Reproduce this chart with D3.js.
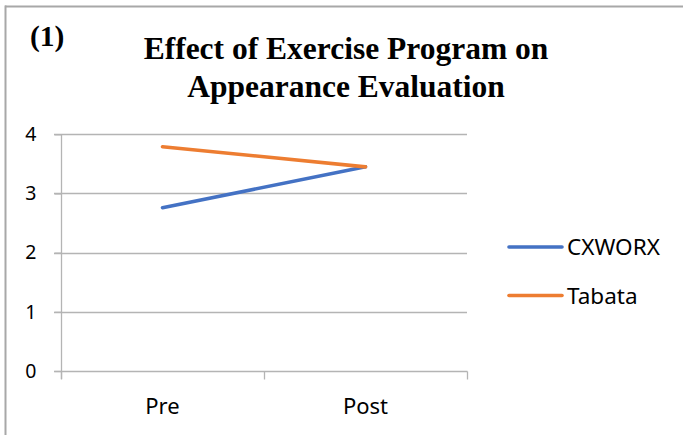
<!DOCTYPE html>
<html>
<head>
<meta charset="utf-8">
<script src="https://cdn.jsdelivr.net/npm/d3@7"></script>
<style>
  html, body { margin: 0; padding: 0; background: #fff; }
  svg { display: block; }
</style>
</head>
<body>
<svg id="chart" width="683" height="435"></svg>
<script>
const categories = ["Pre", "Post"];
const seriesNames = ["CXWORX", "Tabata"];
const cxworxValues = [2.76, 3.45];
const tabataValues = [3.79, 3.45];
const seriesColors = ["#4472C4", "#ED7D31"];
const yTicks = [0, 1, 2, 3, 4];
const titleLines = ["Effect of Exercise Program on", "Appearance Evaluation"];
const panelLabel = "(1)";

(function () {
const svg = d3.select("#chart");
const W = 683, H = 435;
const pLeft = 61, pRight = 467, pTop = 134.3, pBottom = 371;

// outer frame (top and left only, as in reference)
svg.append("line").attr("x1", 5).attr("x2", W).attr("y1", 6.5).attr("y2", 6.5)
  .attr("stroke", "#a8a8a8").attr("stroke-width", 2);
svg.append("line").attr("x1", 5.5).attr("x2", 5.5).attr("y1", 5.5).attr("y2", H)
  .attr("stroke", "#a8a8a8").attr("stroke-width", 2);

// panel label
svg.append("text").attr("x", 30).attr("y", 46)
  .attr("font-family", "'Liberation Serif', 'Times New Roman', serif")
  .attr("font-weight", "bold").attr("font-size", 29.5).attr("fill", "#000")
  .text(panelLabel);

// title
svg.append("text")
  .attr("font-family", "'Liberation Serif', 'Times New Roman', serif")
  .attr("font-weight", "bold").attr("font-size", 31.5).attr("fill", "#000")
  .attr("text-anchor", "middle")
  .selectAll("tspan").data(titleLines).join("tspan")
  .attr("x", 346).attr("y", (d, i) => 59 + i * 38)
  .text(d => d);

const x = d3.scaleBand().domain(categories).range([pLeft, pRight]).padding(0);
const y = d3.scaleLinear().domain([0, 4]).range([pBottom, pTop]);

const gridColor = "#b4b4b4";
// gridlines
svg.append("g").selectAll("line").data(yTicks.filter(t => t > 0)).join("line")
  .attr("x1", pLeft - 7).attr("x2", pRight)
  .attr("y1", d => Math.round(y(d)) + 0.5).attr("y2", d => Math.round(y(d)) + 0.5)
  .attr("stroke", gridColor).attr("stroke-width", 1.3);

// y axis
const yAxis = svg.append("g").attr("transform", `translate(${pLeft + 0.5},0)`)
  .call(d3.axisLeft(y).tickValues(yTicks).tickSize(7).tickPadding(18).tickFormat(d3.format("d")));
yAxis.select(".domain").attr("stroke", gridColor).attr("stroke-width", 1.3)
  .attr("d", `M0,${pTop}V${pBottom + 8}`);
yAxis.selectAll(".tick line").attr("stroke", gridColor).attr("stroke-width", 1.3);
yAxis.selectAll(".tick text")
  .attr("font-family", "'Noto Sans', 'Open Sans', sans-serif")
  .attr("font-size", 19.5).attr("fill", "#000");

// x axis
const xAxis = svg.append("g").attr("transform", `translate(0,${Math.round(pBottom) + 0.5})`);
xAxis.append("line").attr("x1", pLeft - 7).attr("x2", pRight + 0.5).attr("y1", 0).attr("y2", 0)
  .attr("stroke", gridColor).attr("stroke-width", 1.3);
const boundaries = [x.range()[0]].concat(categories.map(c => x(c) + x.bandwidth()));
xAxis.selectAll("line.tk").data(boundaries).join("line").attr("class", "tk")
  .attr("x1", d => d + 0.5).attr("x2", d => d + 0.5).attr("y1", 0).attr("y2", 8)
  .attr("stroke", gridColor).attr("stroke-width", 1.3);
xAxis.selectAll("text").data(categories).join("text")
  .attr("x", d => x(d) + x.bandwidth() / 2).attr("y", 42.5)
  .attr("text-anchor", "middle")
  .attr("font-family", "'Noto Sans', 'Open Sans', sans-serif")
  .attr("font-size", 22).attr("fill", "#000")
  .text(d => d);

// series lines
const series = [cxworxValues, tabataValues];
const line = d3.line().x((d, i) => x(categories[i]) + x.bandwidth() / 2).y(d => y(d));
svg.append("g").selectAll("path").data(series).join("path")
  .attr("d", d => line(d))
  .attr("fill", "none")
  .attr("stroke", (d, i) => seriesColors[i])
  .attr("stroke-width", 3.6)
  .attr("stroke-linecap", "round");

// legend
const legend = svg.append("g");
const legY = [247, 295.5];
seriesNames.forEach((name, i) => {
  legend.append("line").attr("x1", 509).attr("x2", 562).attr("y1", legY[i]).attr("y2", legY[i])
    .attr("stroke", seriesColors[i]).attr("stroke-width", 3.6).attr("stroke-linecap", "round");
  legend.append("text").attr("x", 567).attr("y", legY[i] + 8)
    .attr("font-family", "'Noto Sans', 'Open Sans', sans-serif")
    .attr("font-size", 22.5).attr("fill", "#000")
    .text(name);
});
})();
</script>
</body>
</html>
